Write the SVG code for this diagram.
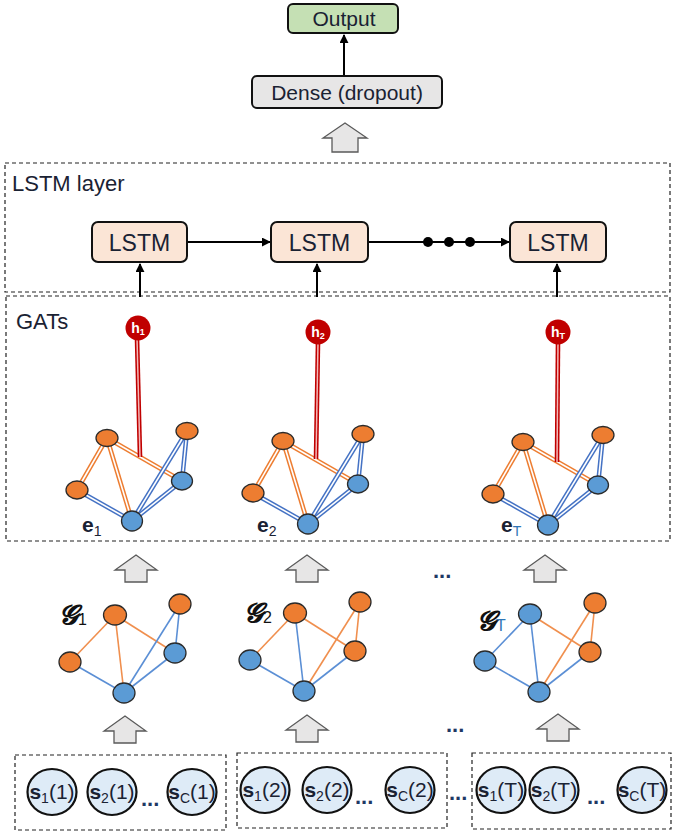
<svg xmlns="http://www.w3.org/2000/svg" width="673" height="835" viewBox="0 0 673 835">
<style>
text{font-family:"Liberation Sans",Arial,sans-serif;fill:#1a2233}
.box{stroke:#111;stroke-width:2}
.dash{fill:none;stroke:#222;stroke-width:1.2;stroke-dasharray:4 3}
.blk{fill:#E7E6E6;stroke:#5a5a5a;stroke-width:1.3}
.conn{stroke:#000;stroke-width:2;fill:none}
.eo{stroke:#ED7D31;stroke-width:4.6;fill:none}
.eb{stroke:#4472C4;stroke-width:4.6;fill:none}
.ew{stroke:#fff;stroke-width:1.6;fill:none}
.so{stroke:#F08F4E;stroke-width:1.6}
.sb{stroke:#5B8FD5;stroke-width:1.6}
.no{fill:#ED7D31;stroke:#2b2b2b;stroke-width:1.3}
.nb{fill:#5B9BD5;stroke:#2b2b2b;stroke-width:1.3}
.hc{fill:#C00000}
.ht{fill:#fff;font-weight:bold;font-size:14px}
.sc{fill:#DEEBF7;stroke:#111;stroke-width:2.2}
.st{font-size:21px}
.dots{font-size:22px;font-weight:bold;fill:#1F3864}
.gl{font-family:"DejaVu Serif",serif;font-size:27px;font-style:italic;font-weight:bold;fill:#111}
</style>
<defs>
<marker id="ah" viewBox="0 0 10 10" refX="9" refY="5" markerWidth="4.5" markerHeight="4.5" orient="auto"><path d="M0,0 L10,5 L0,10 z" fill="#000"/></marker>
</defs>

<!-- layer boxes -->
<rect class="dash" x="5" y="163" width="665" height="129"/>
<text x="12" y="191" font-size="22">LSTM layer</text>
<rect class="dash" x="6" y="296" width="664" height="245"/>
<text x="16" y="329" font-size="22">GATs</text>

<!-- block arrows -->
<g id="blockarrows">
<polygon class="blk" points="345,123 367,138 358,138 358,152 332,152 332,138 323,138"/>
<polygon class="blk" points="136,555 157,570 147,570 147,582 125,582 125,570 115,570"/>
<polygon class="blk" points="307,555 328,570 318,570 318,582 296,582 296,570 286,570"/>
<polygon class="blk" points="545,555 566,570 556,570 556,582 534,582 534,570 524,570"/>
<polygon class="blk" points="125,716 146,731 136,731 136,743 114,743 114,731 104,731"/>
<polygon class="blk" points="307,715 328,730 318,730 318,742 296,742 296,730 286,730"/>
<polygon class="blk" points="558,714 579,729 569,729 569,741 547,741 547,729 537,729"/>
</g>

<!-- connectors -->
<g id="connectors">
<line class="conn" x1="344" y1="76" x2="344" y2="35" marker-end="url(#ah)"/>
<line class="conn" x1="187" y1="242" x2="270" y2="242" marker-end="url(#ah)"/>
<line class="conn" x1="368" y1="242" x2="509" y2="242" marker-end="url(#ah)"/>
<circle cx="428" cy="242" r="5" fill="#000"/>
<circle cx="449" cy="242" r="5" fill="#000"/>
<circle cx="470" cy="242" r="5" fill="#000"/>
<line class="conn" x1="140" y1="297" x2="140" y2="264" marker-end="url(#ah)"/>
<line class="conn" x1="317" y1="297" x2="317" y2="264" marker-end="url(#ah)"/>
<line class="conn" x1="557" y1="297" x2="557" y2="264" marker-end="url(#ah)"/>
</g>

<!-- top nodes -->
<g id="output">
<rect class="box" x="288" y="4" width="110" height="29" rx="5" fill="#C5E0B4"/>
<text x="344" y="26" font-size="21" text-anchor="middle">Output</text>
</g>
<g id="dense">
<rect class="box" x="252" y="76" width="190" height="32" rx="5" fill="#E7E6E6"/>
<text x="347" y="100" font-size="21" text-anchor="middle">Dense (dropout)</text>
</g>
<g id="lstm1">
<rect class="box" x="92" y="222" width="95" height="40" rx="6" fill="#FBE5D6"/>
<text x="139.5" y="251" font-size="23" text-anchor="middle">LSTM</text>
</g>
<g id="lstm2">
<rect class="box" x="271" y="222" width="97" height="40" rx="6" fill="#FBE5D6"/>
<text x="319.5" y="251" font-size="23" text-anchor="middle">LSTM</text>
</g>
<g id="lstmT">
<rect class="box" x="510" y="222" width="96" height="40" rx="6" fill="#FBE5D6"/>
<text x="558" y="251" font-size="23" text-anchor="middle">LSTM</text>
</g>

<!-- GAT graphs -->
<g id="gat1">
<g>
<line class="eo" x1="107" y1="438" x2="77" y2="490"/><line class="ew" x1="107" y1="438" x2="77" y2="490"/>
<line class="eo" x1="107" y1="438" x2="132" y2="521"/><line class="ew" x1="107" y1="438" x2="132" y2="521"/>
<line class="eo" x1="107" y1="438" x2="182" y2="481"/><line class="ew" x1="107" y1="438" x2="182" y2="481"/>
<line class="eb" x1="77" y1="490" x2="132" y2="521"/><line class="ew" x1="77" y1="490" x2="132" y2="521"/>
<line class="eb" x1="132" y1="521" x2="187" y2="431"/><line class="ew" x1="132" y1="521" x2="187" y2="431"/>
<line class="eb" x1="132" y1="521" x2="182" y2="481"/><line class="ew" x1="132" y1="521" x2="182" y2="481"/>
<line class="eb" x1="187" y1="431" x2="182" y2="481"/><line class="ew" x1="187" y1="431" x2="182" y2="481"/>
</g>
<line stroke="#C00000" stroke-width="4.6" x1="137" y1="338" x2="140" y2="457"/>
<line stroke="#F4B8B8" stroke-width="1.5" x1="137" y1="338" x2="140" y2="457"/>
<ellipse class="no" cx="107" cy="438" rx="11" ry="8.5"/>
<ellipse class="no" cx="187" cy="431" rx="11" ry="8.5"/>
<ellipse class="no" cx="77" cy="490" rx="11" ry="9"/>
<ellipse class="nb" cx="182" cy="481" rx="10.5" ry="9"/>
<ellipse class="nb" cx="132" cy="521" rx="10.5" ry="10"/>
<circle class="hc" cx="138" cy="328" r="12.5"/>
<text class="ht" x="138" y="333" text-anchor="middle">h<tspan font-size="9" dy="2">1</tspan></text>
<text x="82" y="532" font-size="21" font-weight="bold" fill="#000">e<tspan font-size="14" font-weight="normal" dy="4">1</tspan></text>
</g>

<g id="gat2">
<g transform="translate(176,3)">
<line class="eo" x1="107" y1="438" x2="77" y2="490"/><line class="ew" x1="107" y1="438" x2="77" y2="490"/>
<line class="eo" x1="107" y1="438" x2="132" y2="521"/><line class="ew" x1="107" y1="438" x2="132" y2="521"/>
<line class="eo" x1="107" y1="438" x2="182" y2="481"/><line class="ew" x1="107" y1="438" x2="182" y2="481"/>
<line class="eb" x1="77" y1="490" x2="132" y2="521"/><line class="ew" x1="77" y1="490" x2="132" y2="521"/>
<line class="eb" x1="132" y1="521" x2="187" y2="431"/><line class="ew" x1="132" y1="521" x2="187" y2="431"/>
<line class="eb" x1="132" y1="521" x2="182" y2="481"/><line class="ew" x1="132" y1="521" x2="182" y2="481"/>
<line class="eb" x1="187" y1="431" x2="182" y2="481"/><line class="ew" x1="187" y1="431" x2="182" y2="481"/>
</g>
<line stroke="#C00000" stroke-width="4.6" x1="318" y1="342" x2="316" y2="459"/>
<line stroke="#F4B8B8" stroke-width="1.5" x1="318" y1="342" x2="316" y2="459"/>
<g transform="translate(176,3)">
<ellipse class="no" cx="107" cy="438" rx="11" ry="8.5"/>
<ellipse class="no" cx="187" cy="431" rx="11" ry="8.5"/>
<ellipse class="no" cx="77" cy="490" rx="11" ry="9"/>
<ellipse class="nb" cx="182" cy="481" rx="10.5" ry="9"/>
<ellipse class="nb" cx="132" cy="521" rx="10.5" ry="10"/>
</g>
<circle class="hc" cx="318" cy="332" r="12.5"/>
<text class="ht" x="318" y="337" text-anchor="middle">h<tspan font-size="9" dy="2">2</tspan></text>
<text x="257" y="532" font-size="21" font-weight="bold" fill="#000">e<tspan font-size="14" font-weight="normal" dy="4">2</tspan></text>
</g>

<g id="gatT">
<g transform="translate(416,4)">
<line class="eo" x1="107" y1="438" x2="77" y2="490"/><line class="ew" x1="107" y1="438" x2="77" y2="490"/>
<line class="eo" x1="107" y1="438" x2="132" y2="521"/><line class="ew" x1="107" y1="438" x2="132" y2="521"/>
<line class="eo" x1="107" y1="438" x2="182" y2="481"/><line class="ew" x1="107" y1="438" x2="182" y2="481"/>
<line class="eb" x1="77" y1="490" x2="132" y2="521"/><line class="ew" x1="77" y1="490" x2="132" y2="521"/>
<line class="eb" x1="132" y1="521" x2="187" y2="431"/><line class="ew" x1="132" y1="521" x2="187" y2="431"/>
<line class="eb" x1="132" y1="521" x2="182" y2="481"/><line class="ew" x1="132" y1="521" x2="182" y2="481"/>
<line class="eb" x1="187" y1="431" x2="182" y2="481"/><line class="ew" x1="187" y1="431" x2="182" y2="481"/>
</g>
<line stroke="#C00000" stroke-width="4.6" x1="558" y1="342" x2="557" y2="462"/>
<line stroke="#F4B8B8" stroke-width="1.5" x1="558" y1="342" x2="557" y2="462"/>
<g transform="translate(416,4)">
<ellipse class="no" cx="107" cy="438" rx="11" ry="8.5"/>
<ellipse class="no" cx="187" cy="431" rx="11" ry="8.5"/>
<ellipse class="no" cx="77" cy="490" rx="11" ry="9"/>
<ellipse class="nb" cx="182" cy="481" rx="10.5" ry="9"/>
<ellipse class="nb" cx="132" cy="521" rx="10.5" ry="10"/>
</g>
<circle class="hc" cx="558" cy="332" r="12.5"/>
<text class="ht" x="558" y="337" text-anchor="middle">h<tspan font-size="9" dy="2">T</tspan></text>
<text x="501" y="532" font-size="21" font-weight="bold" fill="#000">e<tspan font-size="14" font-weight="normal" dy="4" fill="#2E75B6">T</tspan></text>
</g>

<!-- input graphs -->
<g id="graph1">
<line class="so" x1="115" y1="615" x2="70" y2="662"/>
<line class="so" x1="115" y1="615" x2="124" y2="693"/>
<line class="so" x1="115" y1="615" x2="175" y2="653"/>
<line class="sb" x1="70" y1="662" x2="124" y2="693"/>
<line class="sb" x1="124" y1="693" x2="180" y2="604"/>
<line class="sb" x1="124" y1="693" x2="175" y2="653"/>
<line class="sb" x1="180" y1="604" x2="175" y2="653"/>
<ellipse class="no" cx="115" cy="615" rx="11.5" ry="10"/>
<ellipse class="no" cx="180" cy="604" rx="11" ry="10"/>
<ellipse class="no" cx="70" cy="662" rx="11" ry="10"/>
<ellipse class="nb" cx="175" cy="653" rx="11" ry="10"/>
<ellipse class="nb" cx="124" cy="693" rx="11" ry="10"/>
<text class="gl" x="59" y="624">𝓖<tspan font-family="Liberation Sans,sans-serif" font-size="16" font-style="normal" font-weight="normal" dy="1">1</tspan></text>
</g>
<g id="graph2">
<g transform="translate(180,-2)">
<line class="so" x1="115" y1="615" x2="70" y2="662"/>
<line class="sb" x1="115" y1="615" x2="124" y2="693"/>
<line class="so" x1="115" y1="615" x2="175" y2="653"/>
<line class="sb" x1="70" y1="662" x2="124" y2="693"/>
<line class="so" x1="124" y1="693" x2="180" y2="604"/>
<line class="sb" x1="124" y1="693" x2="175" y2="653"/>
<line class="so" x1="180" y1="604" x2="175" y2="653"/>
<ellipse class="no" cx="115" cy="615" rx="11.5" ry="10"/>
<ellipse class="no" cx="180" cy="604" rx="11" ry="10"/>
<ellipse class="nb" cx="70" cy="662" rx="11" ry="10"/>
<ellipse class="no" cx="175" cy="653" rx="11" ry="10"/>
<ellipse class="nb" cx="124" cy="693" rx="11" ry="10"/>
</g>
<text class="gl" x="244" y="622">𝓖<tspan font-family="Liberation Sans,sans-serif" font-size="16" font-style="normal" font-weight="normal" dy="1">2</tspan></text>
</g>
<g id="graphT">
<g transform="translate(415,-1)">
<line class="sb" x1="115" y1="615" x2="70" y2="662"/>
<line class="sb" x1="115" y1="615" x2="124" y2="693"/>
<line class="so" x1="115" y1="615" x2="175" y2="653"/>
<line class="sb" x1="70" y1="662" x2="124" y2="693"/>
<line class="so" x1="124" y1="693" x2="180" y2="604"/>
<line class="sb" x1="124" y1="693" x2="175" y2="653"/>
<line class="so" x1="180" y1="604" x2="175" y2="653"/>
<ellipse class="nb" cx="115" cy="615" rx="11.5" ry="10"/>
<ellipse class="no" cx="180" cy="604" rx="11" ry="10"/>
<ellipse class="nb" cx="70" cy="662" rx="11" ry="10"/>
<ellipse class="no" cx="175" cy="653" rx="11" ry="10"/>
<ellipse class="nb" cx="124" cy="693" rx="11" ry="10"/>
</g>
<text class="gl" x="477" y="630">𝓖<tspan font-family="Liberation Sans,sans-serif" font-size="16" font-style="normal" font-weight="normal" dy="1" fill="#2E75B6">T</tspan></text>
</g>

<text class="dots" x="433" y="578">...</text>
<text class="dots" x="446" y="732">...</text>
<text class="dots" x="449" y="800">...</text>

<!-- sensor inputs -->
<g id="input1">
<rect class="dash" x="15" y="755" width="211" height="75"/>
<ellipse class="sc" cx="52" cy="792" rx="24.5" ry="23"/>
<ellipse class="sc" cx="112" cy="792" rx="24.5" ry="23"/>
<ellipse class="sc" cx="192" cy="792" rx="24.5" ry="23"/>
<text class="st" x="52" y="799" text-anchor="middle"><tspan font-weight="bold">s</tspan><tspan font-size="14" dy="4">1</tspan><tspan dy="-4">(1)</tspan></text>
<text class="st" x="112" y="799" text-anchor="middle"><tspan font-weight="bold">s</tspan><tspan font-size="14" dy="4">2</tspan><tspan dy="-4">(1)</tspan></text>
<text class="dots" x="141" y="806">...</text>
<text class="st" x="192" y="799" text-anchor="middle"><tspan font-weight="bold">s</tspan><tspan font-size="14" dy="4">C</tspan><tspan dy="-4">(1)</tspan></text>
</g>
<g id="input2">
<rect class="dash" x="237" y="753" width="210" height="75"/>
<ellipse class="sc" cx="265" cy="790" rx="24.5" ry="23"/>
<ellipse class="sc" cx="327" cy="790" rx="24.5" ry="23"/>
<ellipse class="sc" cx="410" cy="790" rx="24.5" ry="23"/>
<text class="st" x="265" y="797" text-anchor="middle"><tspan font-weight="bold">s</tspan><tspan font-size="14" dy="4">1</tspan><tspan dy="-4">(2)</tspan></text>
<text class="st" x="327" y="797" text-anchor="middle"><tspan font-weight="bold">s</tspan><tspan font-size="14" dy="4">2</tspan><tspan dy="-4">(2)</tspan></text>
<text class="dots" x="355" y="804">...</text>
<text class="st" x="410" y="797" text-anchor="middle"><tspan font-weight="bold">s</tspan><tspan font-size="14" dy="4">C</tspan><tspan dy="-4">(2)</tspan></text>
</g>
<g id="inputT">
<rect class="dash" x="472" y="753" width="199" height="76"/>
<ellipse class="sc" cx="501" cy="790" rx="24.5" ry="23"/>
<ellipse class="sc" cx="554" cy="790" rx="24.5" ry="23"/>
<ellipse class="sc" cx="642" cy="790" rx="24.5" ry="23"/>
<text class="st" x="501" y="797" text-anchor="middle"><tspan font-weight="bold">s</tspan><tspan font-size="14" dy="4">1</tspan><tspan dy="-4">(T)</tspan></text>
<text class="st" x="554" y="797" text-anchor="middle"><tspan font-weight="bold">s</tspan><tspan font-size="14" dy="4">2</tspan><tspan dy="-4">(T)</tspan></text>
<text class="dots" x="587" y="804">...</text>
<text class="st" x="642" y="797" text-anchor="middle"><tspan font-weight="bold">s</tspan><tspan font-size="14" dy="4">C</tspan><tspan dy="-4">(T)</tspan></text>
</g>
</svg>
